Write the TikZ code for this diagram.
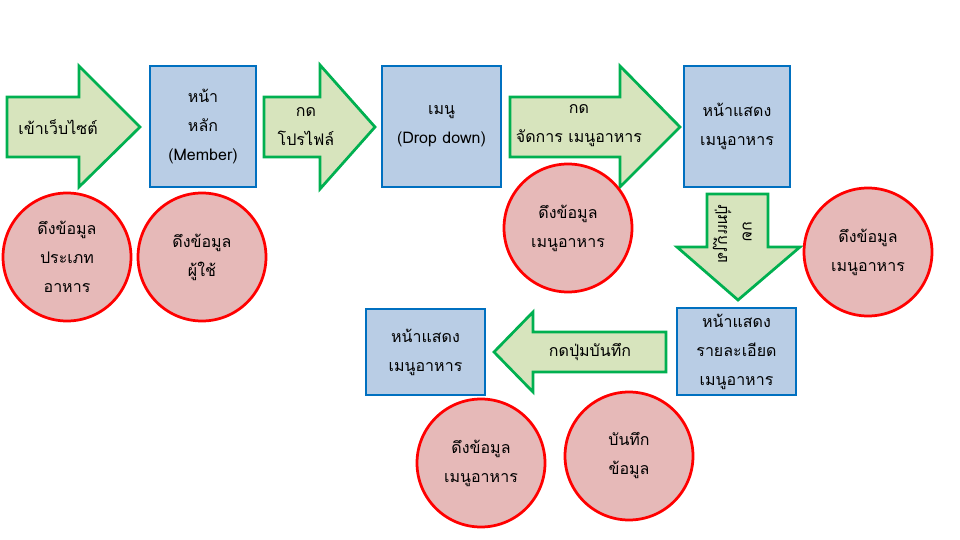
\documentclass[tikz,border=0pt]{standalone}
\usepackage{fontspec}
\newfontfamily\thaifont[Script=Thai]{Loma}
\definecolor{boxfill}{HTML}{B9CDE5}
\definecolor{boxline}{HTML}{0070C0}
\definecolor{arrfill}{HTML}{D7E4BD}
\definecolor{arrline}{HTML}{00B050}
\definecolor{dbfill}{HTML}{E6B9B8}
\definecolor{dbline}{HTML}{FF0000}
\tikzset{
    page/.style={draw=boxline, fill=boxfill, line width=2.75pt, align=center, inner sep=0pt},
    blockarrow/.style={draw=arrline, fill=arrfill, line width=2.75pt, line join=miter},
    datacircle/.style={circle, draw=dbline, fill=dbfill, line width=2.75pt, minimum size=128pt, align=center, inner sep=0pt},
    label/.style={align=center, inner sep=0pt},
    mirrored/.style={rotate=-90, yscale=-1}
}
\begin{document}
\begin{tikzpicture}[x=1pt, y=-1pt, font=\thaifont\fontsize{16}{29}\selectfont]
    \useasboundingbox (0, 0) rectangle (960, 540);
    % arrows
    \draw[blockarrow] (7, 97) -- (79, 97) -- (79, 66) -- (140, 127) -- (79, 187) -- (79, 157) -- (7, 157) -- cycle;
    \node[label] (enter) at (58, 127) {เข้าเว็บไซต์};
    \draw[blockarrow] (264, 97) -- (320, 97) -- (320, 65) -- (375, 127) -- (320, 189) -- (320, 157) -- (264, 157) -- cycle;
    \node[label] (profile) at (306, 127) {กด\\โปรไฟล์};
    \draw[blockarrow] (510, 97) -- (620, 97) -- (620, 66) -- (680, 127) -- (620, 187) -- (620, 157) -- (510, 157) -- cycle;
    \node[label] (manage) at (579, 126) {กด\\จัดการ เมนูอาหาร};
    \draw[blockarrow] (707, 194) -- (768, 194) -- (768, 247) -- (800, 247) -- (738, 300) -- (677, 247) -- (707, 247) -- cycle;
    \node[label, mirrored] (edit) at (747, 232) {กด};
    \node[label, mirrored] (editbtn) at (722, 234) {ปุ่มแก้ไข};
    \draw[blockarrow] (666, 332) -- (533, 332) -- (533, 312) -- (494, 352) -- (533, 392) -- (533, 372) -- (666, 372) -- cycle;
    \node[label] (save) at (590, 352) {กดปุ่มบันทึก};
    % pages
    \node[page, minimum width=106pt, minimum height=121pt] (home) at (203, 126.5) {หน้า\\หลัก\\(Member)};
    \node[page, minimum width=119pt, minimum height=121pt] (menu) at (441.5, 126.5) {เมนู\\(Drop down)};
    \node[page, minimum width=106pt, minimum height=121pt] (foodlist) at (737, 126.5) {หน้าแสดง\\เมนูอาหาร};
    \node[page, minimum width=119pt, minimum height=87pt] (detail) at (736.5, 351.5) {หน้าแสดง\\รายละเอียด\\เมนูอาหาร};
    \node[page, minimum width=119pt, minimum height=86pt] (foodlist2) at (425.5, 352) {หน้าแสดง\\เมนูอาหาร};
    % data
    \node[datacircle] (getcat) at (67, 257) {ดึงข้อมูล\\ประเภท\\อาหาร};
    \node[datacircle] (getuser) at (202, 257) {ดึงข้อมูล\\ผู้ใช้};
    \node[datacircle] (getfood) at (568, 228) {ดึงข้อมูล\\เมนูอาหาร};
    \node[datacircle] (getfood2) at (868, 252) {ดึงข้อมูล\\เมนูอาหาร};
    \node[datacircle] (getfood3) at (481, 463) {ดึงข้อมูล\\เมนูอาหาร};
    \node[datacircle] (savedata) at (629, 456) {บันทึก\\ข้อมูล};
\end{tikzpicture}
\end{document}
